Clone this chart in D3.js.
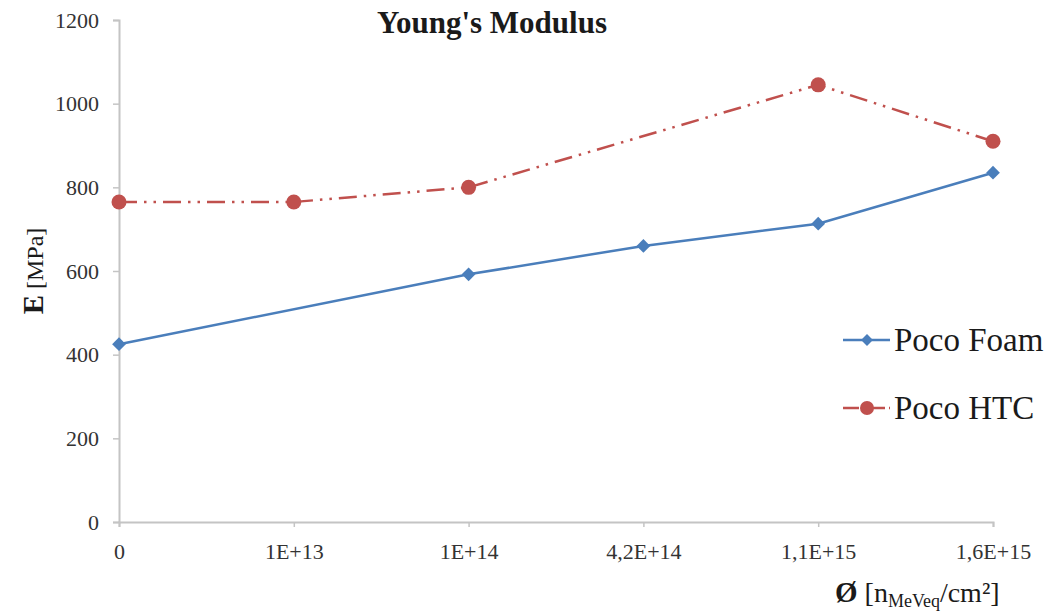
<!DOCTYPE html>
<html>
<head>
<meta charset="utf-8">
<script src="https://cdn.jsdelivr.net/npm/d3@7"></script>
<style>
  body { margin: 0; background: #fff; }
  svg { display: block; font-family: "Liberation Serif", "Times New Roman", serif; }
</style>
</head>
<body>
<svg id="chart" width="1050" height="613"></svg>
<script>
// Chart data
const categories = ["0", "1E+13", "1E+14", "4,2E+14", "1,1E+15", "1,6E+15"];
const pocoFoam = [425, null, 592, 660, 713, 835];
const pocoHTC = [765, 765, 800, null, 1045, 910];
const yTicks = [0, 200, 400, 600, 800, 1000, 1200];

const BLUE = "#4a7ebb";
const RED = "#c0504d";
const SERIF = "'Liberation Serif', 'Times New Roman', serif";

const svg = d3.select("#chart");

const x = d3.scalePoint()
    .domain(categories)
    .range([119, 993]);

const y = d3.scaleLinear()
    .domain([0, 1200])
    .range([522, 20]);

// Y axis
const yAxis = svg.append("g")
    .attr("transform", "translate(119,0)")
    .call(d3.axisLeft(y).tickValues(yTicks).tickFormat(d => String(d)).tickSize(6).tickPadding(14));

// X axis
const xAxis = svg.append("g")
    .attr("transform", "translate(0,522)")
    .call(d3.axisBottom(x).tickSize(5).tickPadding(16));

[yAxis, xAxis].forEach(ax => {
    ax.attr("font-family", SERIF).attr("font-size", 22);
    ax.select(".domain").attr("stroke", "#c4c4c4").attr("stroke-width", 2);
    ax.selectAll(".tick line").attr("stroke", "#c4c4c4").attr("stroke-width", 1.5);
    ax.selectAll(".tick text").attr("fill", "#333");
});

// Series lines (gaps are bridged, as in the original)
const line = d3.line()
    .x(d => x(d.cat))
    .y(d => y(d.val));

function points(values) {
    return categories
        .map((c, i) => ({ cat: c, val: values[i] }))
        .filter(d => d.val !== null);
}

const foamPts = points(pocoFoam);
const htcPts = points(pocoHTC);

svg.append("path")
    .datum(htcPts)
    .attr("fill", "none")
    .attr("stroke", RED)
    .attr("stroke-width", 2.5)
    .attr("stroke-dasharray", "18,7,2.5,7,2.5,7")
    .attr("d", line);

svg.append("path")
    .datum(foamPts)
    .attr("fill", "none")
    .attr("stroke", BLUE)
    .attr("stroke-width", 2.5)
    .attr("d", line);

const diamond = d3.symbol().type(d3.symbolDiamond2).size(120);

svg.append("g")
    .selectAll("path")
    .data(foamPts)
    .join("path")
    .attr("transform", d => `translate(${x(d.cat)},${y(d.val)})`)
    .attr("d", diamond)
    .attr("fill", BLUE);

svg.append("g")
    .selectAll("circle")
    .data(htcPts)
    .join("circle")
    .attr("cx", d => x(d.cat))
    .attr("cy", d => y(d.val))
    .attr("r", 7.5)
    .attr("fill", RED);

// Title
svg.append("text")
    .attr("x", 492)
    .attr("y", 33)
    .attr("text-anchor", "middle")
    .style("font-size", "31px")
    .style("font-weight", "bold")
    .attr("fill", "#1a1a1a")
    .text("Young's Modulus");

// Y axis label
const yLab = svg.append("text")
    .attr("transform", "translate(43,271) rotate(-90)")
    .attr("text-anchor", "middle")
    .attr("fill", "#1a1a1a");
yLab.append("tspan").style("font-weight", "bold").style("font-size", "29px").text("E");
yLab.append("tspan").style("font-size", "24px").text(" [MPa]");

// X axis label
const xLab = svg.append("text")
    .attr("x", 835)
    .attr("y", 602)
    .attr("fill", "#1a1a1a")
    .style("font-size", "28px");
xLab.append("tspan").style("font-weight", "bold").style("font-size", "29px").text("Ø");
xLab.append("tspan").text(" [n");
xLab.append("tspan").attr("dy", 5).style("font-size", "18px").text("MeVeq");
xLab.append("tspan").attr("dy", -5).text("/cm²]");

// Legend
const legend = [
    { name: "Poco Foam", color: BLUE, shape: "diamond", dash: null },
    { name: "Poco HTC", color: RED, shape: "circle", dash: "16,4,2,4" }
];

const lg = svg.append("g")
    .selectAll("g")
    .data(legend)
    .join("g")
    .attr("transform", (d, i) => `translate(843,${340 + i * 68})`);

lg.append("line")
    .attr("x1", 0).attr("x2", 47)
    .attr("stroke", d => d.color)
    .attr("stroke-width", 2.5)
    .attr("stroke-dasharray", d => d.dash);

lg.filter(d => d.shape === "diamond").append("path")
    .attr("transform", "translate(24,0)")
    .attr("d", d3.symbol().type(d3.symbolDiamond2).size(90))
    .attr("fill", d => d.color);

lg.filter(d => d.shape === "circle").append("circle")
    .attr("cx", 24).attr("r", 7)
    .attr("fill", d => d.color);

lg.append("text")
    .attr("x", 51)
    .attr("dy", "0.33em")
    .attr("fill", "#1a1a1a")
    .style("font-size", "33px")
    .text(d => d.name);
</script>
</body>
</html>
